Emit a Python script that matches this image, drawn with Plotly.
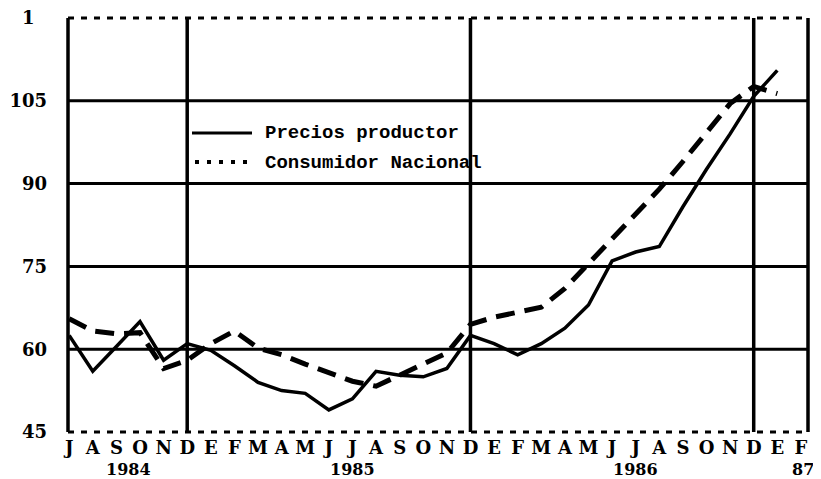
import plotly.graph_objects as go

# Months from Jul 1984 to Feb 1987 (index 0 = Jul 1984)
month_letters = list("JASONDEFMAMJJASONDEFMAMJJASONDEF")
year_labels = ["1984", "1985", "1986", "87"]
year_idx = [2.5, 12.0, 24.0, 31.1]
dec_idx = [5, 17, 29]

# Precios productor (Jul 1984 .. Jan 1987)
productor = [
    62.5, 56.0, 60.5, 65.0, 58.0, 61.0,
    59.8, 57.0, 54.0, 52.5, 52.0, 49.0, 51.0, 56.0, 55.3, 55.0, 56.5, 62.5,
    61.0, 59.0, 61.0, 63.8, 68.0, 76.0, 77.6, 78.6, 85.8, 92.6, 99.0, 105.8,
    110.5,
]
# Consumidor Nacional (Jul 1984 .. Jan 1987)
consumidor = [
    65.5, 63.3, 62.8, 63.0, 56.5, 58.0,
    61.0, 63.3, 60.2, 59.0, 57.3, 55.7, 54.2, 53.3, 55.3, 57.5, 59.3, 64.5,
    65.8, 66.7, 67.6, 71.0, 75.5, 80.3, 84.8, 89.0, 94.0, 99.3, 104.5, 107.6,
    106.3,
]

y_range = [45, 120]
y_ticks = [45, 60, 75, 90, 105, 120]
y_text = ["45", "60", "75", "90", "105", "1\u00a0\u00a0"]
grid_solid = [60, 75, 90, 105]
grid_dotted = [45, 120]

x_range = [-0.05, 31.3]
# the page body adds an 8px offset, so the figure is shrunk to fit the window
page_off = 8
W, H = 821 - page_off, 479 - page_off
margin = dict(l=68 - page_off, r=13, t=18 - page_off, b=47)
plot_w = W - margin["l"] - margin["r"]
plot_h = H - margin["t"] - margin["b"]


def xpaper(idx):
    return (idx - x_range[0]) / (x_range[1] - x_range[0])


def ypaper(v):
    return (v - y_range[0]) / (y_range[1] - y_range[0])


def px_x(px):
    # window pixel -> paper x
    return (px - page_off - margin["l"]) / plot_w


def px_y(py):
    # window pixel -> paper y
    return (H - margin["b"] - (py - page_off)) / plot_h


fig = go.Figure()

x = list(range(len(productor)))
fig.add_trace(go.Scatter(
    x=x, y=productor, mode="lines", name="Precios productor",
    line=dict(color="black", width=3.5), showlegend=False,
))
fig.add_trace(go.Scatter(
    x=x, y=consumidor, mode="lines", name="Consumidor Nacional",
    line=dict(color="black", width=5, dash="19px,10px"), showlegend=False,
))

shapes = []
for v in grid_solid:
    shapes.append(dict(type="line", xref="paper", yref="y", x0=0, x1=1, y0=v, y1=v,
                       line=dict(color="black", width=3), layer="below"))
# top and bottom borders are dotted; paper refs so they are not clipped
for v in grid_dotted:
    shapes.append(dict(type="line", xref="paper", yref="paper", x0=0, x1=1,
                       y0=ypaper(v), y1=ypaper(v),
                       line=dict(color="black", width=3, dash="6px,7px"), layer="below"))
for d in dec_idx:
    shapes.append(dict(type="line", xref="x", yref="paper", x0=d, x1=d, y0=0, y1=1,
                       line=dict(color="black", width=3.5), layer="below"))
for edge in [0, 1]:
    shapes.append(dict(type="line", xref="paper", yref="paper", x0=edge, x1=edge, y0=0, y1=1,
                       line=dict(color="black", width=3.5), layer="below"))

# hand-drawn style legend
shapes.append(dict(type="line", xref="paper", yref="paper",
                   x0=px_x(192), x1=px_x(252), y0=px_y(133), y1=px_y(133),
                   line=dict(color="black", width=3)))
shapes.append(dict(type="line", xref="paper", yref="paper",
                   x0=px_x(195), x1=px_x(248), y0=px_y(162), y1=px_y(162),
                   line=dict(color="black", width=4, dash="4px,8px")))

legend_font = dict(family="Liberation Mono", size=19, color="black", weight="bold")
annotations = [
    dict(text="Precios productor", xref="paper", yref="paper", x=px_x(263), y=px_y(133),
         xanchor="left", yanchor="middle", showarrow=False, font=legend_font),
    dict(text="Consumidor Nacional", xref="paper", yref="paper", x=px_x(263), y=px_y(163),
         xanchor="left", yanchor="middle", showarrow=False, font=legend_font),
]
for lbl, idx in zip(year_labels, year_idx):
    annotations.append(dict(text=lbl, xref="paper", yref="paper", x=xpaper(idx), y=px_y(469),
                            xanchor="center", yanchor="middle", showarrow=False,
                            font=dict(family="DejaVu Serif", size=16, color="black", weight="bold")))

fig.update_layout(
    width=W, height=H, margin=margin,
    paper_bgcolor="white", plot_bgcolor="white",
    shapes=shapes, annotations=annotations,
    showlegend=False,
)
fig.update_xaxes(
    range=x_range, tickvals=list(range(len(month_letters))), ticktext=month_letters,
    showgrid=False, zeroline=False, showline=False, ticks="",
    ticklabelstandoff=3, automargin=False, ticklabeloverflow="allow",
    tickfont=dict(family="DejaVu Serif", size=18, color="black", weight="bold"),
)
fig.update_yaxes(
    range=y_range, tickvals=y_ticks, ticktext=y_text,
    showgrid=False, zeroline=False, showline=False, ticks="",
    ticklabelstandoff=20, automargin=False, ticklabeloverflow="allow",
    tickfont=dict(family="DejaVu Serif", size=18, color="black", weight="bold"),
)

fig.write_html("out.html")
